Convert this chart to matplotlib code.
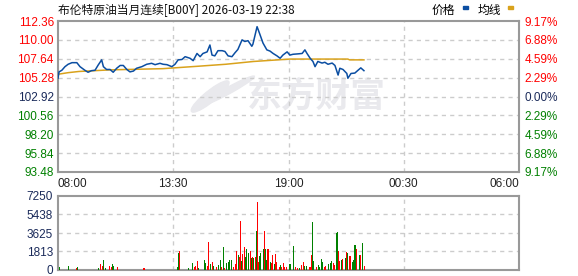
import matplotlib
matplotlib.use("Agg")
import matplotlib.pyplot as plt
from matplotlib.patches import Ellipse

# minutes after 08:00, price
price_t = [0, 3, 11, 20, 29, 40, 54, 63, 77, 86, 96, 106, 115, 125, 130, 139, 149, 158,
           168, 178, 187, 197, 206, 216, 225, 240, 254, 268, 278, 292, 301, 312, 326,
           335, 344, 355, 364, 378, 387, 398, 407, 415, 427, 435, 441, 449, 458, 470,
           478, 487, 498, 507, 515, 527, 535, 544, 555, 558, 570, 573, 578, 587, 598,
           607, 616, 627, 636, 644, 656, 664, 673, 687, 699, 707, 713, 722, 730, 736,
           744, 756, 764, 773, 785, 793, 802, 807, 816, 827, 830, 839, 850, 859, 867, 876]
price = [105.2, 106.0, 106.2, 106.65, 106.95, 107.15, 107.15, 106.65, 106.2, 105.95,
         106.15, 106.2, 106.85, 107.5, 106.65, 106.3, 106.3, 105.95, 106.45, 106.8,
         106.8, 106.3, 106.0, 106.1, 106.45, 106.65, 106.95, 107.07, 106.9, 107.07,
         106.95, 106.9, 106.65, 106.95, 107.5, 107.55, 107.9, 107.7, 107.4, 108.3,
         107.9, 108.3, 108.5, 109.36, 108.1, 108.0, 108.65, 108.65, 108.55, 108.0,
         107.9, 108.4, 108.8, 110.0, 109.8, 109.9, 109.2, 109.45, 111.65, 111.3,
         110.7, 109.6, 108.75, 108.6, 108.3, 108.0, 107.7, 108.1, 108.5, 108.1,
         108.2, 108.25, 108.3, 108.75, 108.3, 107.7, 107.3, 106.65, 107.3, 107.1,
         107.2, 106.95, 107.1, 106.8, 105.6, 106.45, 106.3, 105.8, 105.2, 105.8,
         105.85, 106.2, 106.5, 106.15]

avg_t = [0, 29, 60, 150, 300, 400, 480, 560, 664, 830, 835, 876]
avg = [105.7, 105.9, 106.05, 106.25, 106.4, 106.7, 106.95, 107.3, 107.6, 107.6, 107.5, 107.5]

# volume bars: minute, volume, colour (R up / G down)
vol_t = [3, 31, 54, 57, 117, 121, 127, 130, 135, 147, 152, 155, 158, 170, 244, 247,
         342, 344, 347, 373, 385, 390, 393, 399, 402, 419, 422, 429, 432, 436, 442, 446,
         454, 459, 464, 469, 473, 478, 483, 488, 492, 497, 502, 507, 512, 516, 519, 522,
         526, 529, 533, 536, 540, 545, 550, 553, 557, 561, 565, 568, 571, 575, 577, 580,
         584, 588, 591, 594, 597, 600, 604, 608, 612, 615, 619, 622, 626, 630, 634, 638,
         641, 645, 649, 653, 662, 666, 674, 679, 685, 691, 698, 702, 707, 712, 719, 723,
         726, 729, 732, 736, 741, 745, 750, 754, 758, 762, 765, 774, 779, 784, 788, 793,
         798, 801, 804, 807, 811, 815, 819, 823, 827, 830, 834, 838, 842, 845, 850, 852,
         855, 859, 863, 867, 871, 873, 877]
vol = [250, 400, 150, 250, 160, 600, 400, 1000, 160, 350, 260, 550, 350, 250, 150, 150,
       250, 1650, 1850, 150, 650, 260, 400, 900, 200, 950, 650, 400, 2750, 600, 750, 400,
       260, 490, 980, 260, 2290, 160, 720, 820, 980, 980, 330, 590, 1860, 1470, 1310, 4800,
       915, 1570, 2290, 1310, 2025, 1700, 1860, 1140, 1310, 1140, 1310, 3820, 6660, 820, 1370, 1630,
       1045, 2025, 3820, 2025, 980, 2025, 2025, 820, 720, 1470, 590, 1570, 820, 820, 330, 490,
       330, 720, 260, 260, 590, 590, 2350, 260, 160, 160, 490, 820, 390, 390, 260, 260,
       1470, 4700, 915, 490, 330, 490, 260, 1045, 820, 330, 390, 590, 650, 915, 720, 490,
       3590, 3690, 1860, 915, 980, 1045, 1630, 1140, 1800, 1630, 1370, 1370, 820, 980, 2450, 2450,
       2025, 820, 1470, 1470, 915, 2610, 390]
vol_c = ("GGRGGRRGGRRGGRRR"
         "GGRGGRRRGGGRRGRG"
         "RGGRGRGGGGRRRGRR"
         "GRRGGGRGRGRGRRGG"
         "GGRGGRRGRRGRRGRG"
         "RRRRGGGRRGRRGGRR"
         "RGGRRGGGGRRGGGRR"
         "GGRRGRGGRGRRGGGG"
         "RRGRRGR")

# thin base volume between the spikes
base_t = [12, 21, 40, 48, 66, 75, 84, 93, 102, 111, 141, 164, 180, 189, 198, 207, 216,
          225, 234, 254, 263, 272, 281, 290, 299, 308, 317, 326, 335, 356, 365, 380, 408, 413]
base_v = [110, 90, 100, 130, 100, 90, 110, 100, 120, 110, 130, 140, 100, 90, 100, 110,
          90, 100, 110, 100, 90, 110, 100, 90, 110, 100, 90, 110, 100, 120, 100, 110, 130, 120]
base_c = "RGRGRGRGRGRGRGRGRGRGRGRGRGRGRGRGRG"

x_ticks = [0, 330, 660, 990, 1320]
x_labels = ["08:00", "13:30", "19:00", "00:30", "06:00"]
price_ticks = [93.48, 95.84, 98.20, 100.56, 102.92, 105.28, 107.64, 110.00, 112.36]
pct_labels = ["9.17%", "6.88%", "4.59%", "2.29%", "0.00%", "2.29%", "4.59%", "6.88%", "9.17%"]
vol_ticks = [0, 1813, 3625, 5438, 7250]

RED = "#ff0000"
GREEN = "#008000"
NAVY = "#1a2a5a"
FRAME = "#999999"
GRID = "#cccccc"
MARK = "#e9e9ed"

plt.rcParams['font.family'] = ['Liberation Sans', 'DejaVu Sans']
W, H = 578, 276
fig = plt.figure(figsize=(W / 100, H / 100), dpi=100)

ax = fig.add_axes([58 / W, 1 - 172 / H, 461 / W, 151 / H])
axv = fig.add_axes([58 / W, 1 - 270 / H, 461 / W, 74 / H])

# watermark logo + text
ax.text(0.56, 0.50, "东方财富", transform=ax.transAxes, ha='center', va='center',
        fontsize=25, fontweight='bold', color=MARK, zorder=0,
        family=['Noto Sans CJK SC'])
ax.add_patch(Ellipse((0.33, 0.50), 0.035, 0.22, angle=-20, transform=ax.transAxes,
                     color=MARK, zorder=0))
ax.add_patch(Ellipse((0.37, 0.54), 0.025, 0.22, angle=-30, transform=ax.transAxes,
                     color=MARK, zorder=0))

ax.plot(avg_t, avg, color='#d9a21c', lw=1.1, zorder=3)
ax.plot(price_t, price, color='#0b4ea2', lw=1.1, zorder=4)
ax.set_xlim(0, 1320)
ax.set_ylim(price_ticks[0], price_ticks[-1])

for a in (ax, axv):
    for s in a.spines.values():
        s.set_color(FRAME)
        s.set_linewidth(1.5)
    a.tick_params(length=0)
    a.set_xlim(0, 1320)
    for xv in x_ticks[1:-1]:
        a.axvline(xv, color=GRID, lw=1, ls=(0, (3, 3)), zorder=1)

for yv in price_ticks[1:-1]:
    ax.axhline(yv, color=GRID, lw=1, ls=(0, (3, 3)), zorder=1)

ax.set_yticks(price_ticks)
ax.set_yticklabels([f"{v:.2f}" for v in price_ticks], fontsize=8.5)
for i, lab in enumerate(ax.get_yticklabels()):
    lab.set_color(GREEN if i < 4 else (NAVY if i == 4 else RED))
ax.tick_params(axis='y', pad=3)

axr = ax.twinx()
axr.set_ylim(price_ticks[0], price_ticks[-1])
axr.set_yticks(price_ticks)
axr.set_yticklabels(pct_labels, fontsize=8.5)
for i, lab in enumerate(axr.get_yticklabels()):
    lab.set_color(GREEN if i < 4 else (NAVY if i == 4 else RED))
axr.tick_params(length=0, pad=4)
for s in axr.spines.values():
    s.set_visible(False)

ax.set_xticks(x_ticks)
ax.set_xticklabels(x_labels, fontsize=8.5, color='#222222')
xl = ax.get_xticklabels()
xl[0].set_ha('left')
xl[-1].set_ha('right')
ax.tick_params(axis='x', pad=4)

cmap = {"R": RED, "G": GREEN}
axv.bar(base_t, base_v, width=9, color=[cmap[c] for c in base_c], lw=0, zorder=2)
axv.bar(vol_t, vol, width=2.6, color=[cmap[c] for c in vol_c], lw=0, zorder=3)
axv.set_ylim(0, 7250)
axv.set_yticks(vol_ticks)
axv.set_yticklabels([str(v) for v in vol_ticks], fontsize=8.5, color=NAVY)
axv.set_xticks([])
for yv in vol_ticks[1:-1]:
    axv.axhline(yv, color=GRID, lw=1, ls=(0, (3, 3)), zorder=1)

fig.text(58 / W, 1 - 10 / H, "布伦特原油当月连续[B00Y] 2026-03-19 22:38", fontsize=8.5,
         va='center', ha='left', color='#111111', family=['Noto Sans CJK SC', 'DejaVu Sans'])
fig.text(432 / W, 1 - 10 / H, "价格", fontsize=8.5, va='center', ha='left',
         family=['Noto Sans CJK SC'])
fig.text(478 / W, 1 - 10 / H, "均线", fontsize=8.5, va='center', ha='left',
         family=['Noto Sans CJK SC'])
fig.patches.append(plt.Rectangle((463 / W, 1 - 9 / H), 5 / W, 3 / H, color='#0b4ea2',
                                 transform=fig.transFigure, figure=fig))
fig.patches.append(plt.Rectangle((508 / W, 1 - 9 / H), 5 / W, 3 / H, color='#d9a21c',
                                 transform=fig.transFigure, figure=fig))

fig.savefig("out.png", dpi=100)
